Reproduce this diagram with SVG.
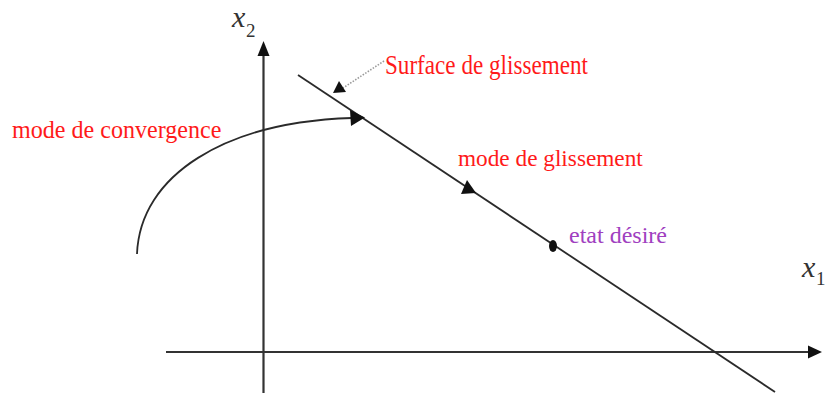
<svg xmlns="http://www.w3.org/2000/svg" width="826" height="397" viewBox="0 0 826 397">
<rect width="826" height="397" fill="#fff"/>
<g id="connectors">
  <line id="axis-x2" stroke="#333" stroke-width="2.2" x1="263.5" y1="393" x2="263.5" y2="54"/>
  <polygon fill="#111" points="263.5,41 257.5,56 269.5,56"/>
  <line id="axis-x1" stroke="#333" stroke-width="2.2" x1="166" y1="352" x2="810" y2="352"/>
  <polygon fill="#111" points="822,352 808,345.5 808,358.5"/>
  <line id="surface" stroke="#2a2a2a" stroke-width="1.8" x1="298" y1="75" x2="775" y2="392"/>
  <path id="convergence" stroke="#2a2a2a" stroke-width="1.8" fill="none" d="M137,254 C140,175 225,122 352,118"/>
  <polygon fill="#111" points="365,117.5 350,110 351,126"/>
  <polygon fill="#111" points="467,180 461,194 476,193"/>
  <line id="pointer" x1="384" y1="61" x2="343" y2="88" stroke="#999" stroke-width="1.6" stroke-dasharray="1.5,1.5"/>
  <polygon fill="#111" points="333,93 339,81 346,92"/>
</g>
<g id="label-x2">
  <text x="232" y="27" font-family="Liberation Serif, Times New Roman, serif" font-style="italic" font-size="30" fill="#333">x</text>
  <text x="246" y="37" font-family="Liberation Serif, Times New Roman, serif" font-size="19" fill="#333">2</text>
</g>
<g id="label-x1">
  <text x="802" y="277" font-family="Liberation Serif, Times New Roman, serif" font-style="italic" font-size="30" fill="#333">x</text>
  <text x="816" y="285" font-family="Liberation Serif, Times New Roman, serif" font-size="19" fill="#333">1</text>
</g>
<g id="surface-label"><text transform="translate(385,74) scale(0.857,1)" font-family="Liberation Serif, Times New Roman, serif" font-size="27" fill="#ff1a1a">Surface de glissement</text></g>
<g id="convergence-label"><text transform="translate(12,138) scale(0.963,1)" font-family="Liberation Serif, Times New Roman, serif" font-size="25" fill="#ff1a1a">mode de convergence</text></g>
<g id="glissement-label"><text transform="translate(458,166) scale(0.97,1)" font-family="Liberation Serif, Times New Roman, serif" font-size="24" fill="#ff1a1a">mode de glissement</text></g>
<g id="etat-desire"><ellipse cx="553" cy="246" rx="4" ry="6" fill="#111"/><text x="569" y="243" font-family="Liberation Serif, Times New Roman, serif" font-size="24" fill="#a040c0">etat désiré</text></g>
</svg>
